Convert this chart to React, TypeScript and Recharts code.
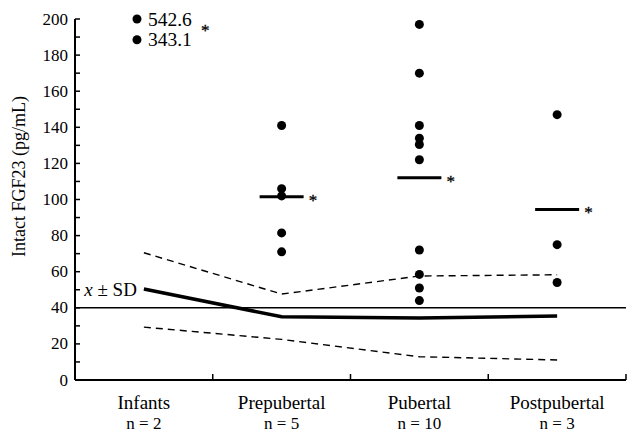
import React from 'react';
import { ComposedChart, Line, Scatter, XAxis, YAxis, ReferenceLine } from 'recharts';

const groups = ['Infants', 'Prepubertal', 'Pubertal', 'Postpubertal'];
const groupN = [2, 5, 10, 3];

// individual intact FGF23 values (pg/mL)
const infantValues = [542.6, 343.1]; // off scale, printed beside the dots
const prepubertalValues = [141, 106, 102, 81.5, 71];
const pubertalValues = [197, 170, 141, 134, 130.5, 122, 72, 58.5, 51, 44];
const postpubertalValues = [147, 75, 54];
const medianValues = [null, 101.5, 112, 94.5];

// normal range, x ± SD
const meanValues = [50.4, 35, 34.3, 35.5];
const plusSD = [70.5, 47.6, 57.6, 58.3];
const minusSD = [29.3, 22.5, 12.9, 11.1];
const cutoff = 40;

const yTicks = [0, 10, 20, 30, 40, 50, 60, 70, 80, 90, 100, 110, 120, 130, 140, 150, 160, 170, 180, 190, 200];
const xTicks = [0, 0.5, 1, 1.5, 2, 2.5, 3, 3.5, 4];

const FONT = '"Liberation Serif", "Times New Roman", serif';
const YMAX = 200;

const summary = groups.map((g, i) => ({ x: i + 0.5, mean: meanValues[i], upper: plusSD[i], lower: minusSD[i] }));

const pointRows = [prepubertalValues, pubertalValues, postpubertalValues].flatMap((vals, k) =>
  vals.map((v) => ({ x: k + 1.5, y: v }))
);

// off-scale infants: stacked under the top of the axis, a bit left of the group centre
const infantRows = infantValues.map((v, i) => ({ x: 0.45, y: YMAX - i * 11.5, label: v.toFixed(1) }));

const medianRows = medianValues
  .map((m, i) => (m == null ? null : { x: i + 0.5, y: m }))
  .filter((r) => r != null);

const Dot = (props: any) => <circle cx={props.cx} cy={props.cy} r={4.5} fill="#000" />;

const Star = ({ x, y }: { x: number; y: number }) => (
  <text x={x} y={y} fontFamily={FONT} fontSize={17} fill="#000" stroke="#000" strokeWidth={0.3}>*</text>
);

const InfantDot = (props: any) => {
  const { cx, cy, payload, index } = props;
  return (
    <g>
      <circle cx={cx} cy={cy} r={4.5} fill="#000" />
      <text x={cx + 11} y={cy} dominantBaseline="central" fontFamily={FONT} fontSize={19.5} fill="#000">
        {payload.label}
      </text>
      {index === 0 && <Star x={cx + 64} y={cy + 17} />}
    </g>
  );
};

const MedianBar = (props: any) => {
  const { cx, cy } = props;
  return (
    <g>
      <line x1={cx - 22} x2={cx + 22} y1={cy} y2={cy} stroke="#000" strokeWidth={3} />
      <Star x={cx + 27} y={cy + 9} />
    </g>
  );
};

const XTick = (props: any) => {
  const { x, y, payload } = props;
  const v = payload.value;
  if (Number.isInteger(v)) {
    if (v === 0) return <g />;
    return <line x1={x} x2={x} y1={y} y2={y - 6} stroke="#000" strokeWidth={1.5} />;
  }
  const i = Math.floor(v);
  return (
    <g fontFamily={FONT} fill="#000">
      <text x={x} y={y + 29} textAnchor="middle" fontSize={19}>{groups[i]}</text>
      <text x={x} y={y + 49} textAnchor="middle" fontSize={17}>n = {groupN[i]}</text>
    </g>
  );
};

const YTick = (props: any) => {
  const { x, y, payload } = props;
  const v = payload.value;
  return (
    <g>
      <line x1={x} x2={x + 5} y1={y} y2={y} stroke="#000" strokeWidth={1.5} />
      {v % 20 === 0 && (
        <text x={x - 7} y={y} textAnchor="end" dominantBaseline="central" fontFamily={FONT} fontSize={17} fill="#000">
          {v}
        </text>
      )}
    </g>
  );
};

const YLabel = (props: any) => {
  const vb = props.viewBox;
  const lx = vb.x + 19;
  const ly = vb.y + vb.height / 2 - 23;
  return (
    <text x={lx} y={ly} transform={`rotate(-90, ${lx}, ${ly})`} textAnchor="middle" dominantBaseline="central"
      fontFamily={FONT} fontSize={18} fill="#000">
      Intact FGF23 (pg/mL)
    </text>
  );
};

const meanLabel = (props: any) => {
  if (props.index !== 0) return <g />;
  return (
    <text x={props.x - 7} y={props.y} textAnchor="end" dominantBaseline="central" fontFamily={FONT} fontSize={19} fill="#000">
      <tspan fontStyle="italic">x</tspan> ± SD
    </text>
  );
};

export default function App() {
  return (
    <div style={{ position: 'absolute', left: 0, top: 0, background: '#fff' }}>
      <ComposedChart width={627} height={434} data={summary} margin={{ top: 19, right: 1, bottom: 0, left: 0 }}>
        <XAxis
          type="number"
          dataKey="x"
          domain={[0, 4]}
          ticks={xTicks}
          interval={0}
          height={54}
          tickLine={false}
          tickSize={0}
          tickMargin={0}
          axisLine={{ stroke: '#000', strokeWidth: 2 }}
          tick={<XTick />}
        />
        <YAxis
          type="number"
          domain={[0, YMAX]}
          ticks={yTicks}
          interval={0}
          width={75}
          tickLine={false}
          tickSize={0}
          tickMargin={0}
          axisLine={{ stroke: '#000', strokeWidth: 2 }}
          tick={<YTick />}
          label={{ content: YLabel }}
        />
        <ReferenceLine y={cutoff} stroke="#000" strokeWidth={1.5} />
        <Line type="linear" dataKey="upper" stroke="#000" strokeWidth={1.4} strokeDasharray="7 5" dot={false} isAnimationActive={false} />
        <Line type="linear" dataKey="lower" stroke="#000" strokeWidth={1.4} strokeDasharray="7 5" dot={false} isAnimationActive={false} />
        <Line type="linear" dataKey="mean" stroke="#000" strokeWidth={3.5} dot={false} label={meanLabel} isAnimationActive={false} />
        <Scatter data={pointRows} dataKey="y" shape={Dot} isAnimationActive={false} />
        <Scatter data={infantRows} dataKey="y" shape={InfantDot} isAnimationActive={false} />
        <Scatter data={medianRows} dataKey="y" shape={MedianBar} isAnimationActive={false} />
      </ComposedChart>
    </div>
  );
}
